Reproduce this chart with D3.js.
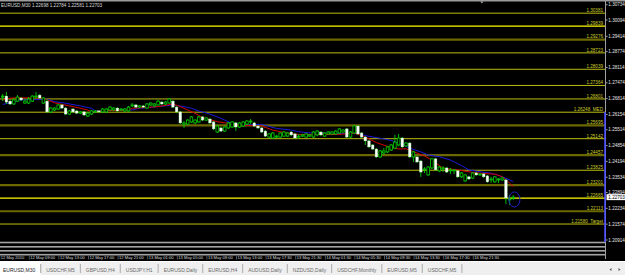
<!DOCTYPE html>
<html>
<head>
<meta charset="utf-8">
<script src="https://cdn.jsdelivr.net/npm/d3@7"></script>
<style>
  html, body { margin: 0; padding: 0; background: #000; overflow: hidden; }
  svg { display: block; font-family: "Liberation Sans", Arial, sans-serif; }
</style>
</head>
<body>
<div id="chart"></div>
<script>
// chart header
const symbolTitle = 'EURUSD,M30';
const lastQuote = ['1.22698', '1.22784', '1.22581', '1.22703'];
const lastPrice = 1.22703;

// M30 candles
const opens = [1.2688,1.2692,1.2671,1.2659,1.2671,1.2684,1.2663,1.2663,1.2671,1.2688,1.2696,1.2663,1.2671,1.2626,1.2634,1.2638,1.2655,1.2642,1.2617,1.2638,
  1.2630,1.2621,1.2626,1.2609,1.2617,1.2626,1.2630,1.2626,1.2626,1.2634,1.2634,1.2642,1.2634,1.2630,1.2630,1.2651,1.2655,1.2646,1.2651,1.2642,
  1.2655,1.2651,1.2655,1.2667,1.2659,1.2663,1.2671,1.2646,1.2626,1.2575,1.2575,1.2584,1.2580,1.2584,1.2605,1.2592,1.2596,1.2584,1.2542,1.2559,
  1.2546,1.2559,1.2563,1.2580,1.2563,1.2567,1.2575,1.2584,1.2580,1.2567,1.2559,1.2546,1.2521,1.2517,1.2521,1.2521,1.2525,1.2525,1.2542,1.2534,
  1.2521,1.2525,1.2521,1.2525,1.2521,1.2530,1.2542,1.2525,1.2534,1.2534,1.2534,1.2538,1.2542,1.2555,1.2521,1.2538,1.2567,1.2538,1.2521,1.2505,
  1.2488,1.2471,1.2438,1.2455,1.2459,1.2467,1.2475,1.2488,1.2517,1.2484,1.2496,1.2438,1.2438,1.2421,1.2384,1.2363,1.2392,1.2430,1.2380,1.2388,
  1.2392,1.2380,1.2380,1.2380,1.2355,1.2338,1.2355,1.2350,1.2371,1.2363,1.2367,1.2359,1.2342,1.2334,1.2342,1.2342,1.2342,1.2259,1.22698];
const highs = [1.2701,1.2709,1.2680,1.2684,1.2696,1.2688,1.2680,1.2688,1.2696,1.2709,1.2701,1.2688,1.2680,1.2646,1.2646,1.2659,1.2659,1.2646,1.2634,1.2642,
  1.2634,1.2630,1.2630,1.2625,1.2634,1.2634,1.2634,1.2642,1.2642,1.2651,1.2646,1.2646,1.2642,1.2642,1.2651,1.2663,1.2659,1.2655,1.2655,1.2663,
  1.2667,1.2663,1.2676,1.2671,1.2671,1.2684,1.2676,1.2651,1.2630,1.2588,1.2596,1.2609,1.2596,1.2609,1.2609,1.2605,1.2601,1.2588,1.2571,1.2563,
  1.2567,1.2584,1.2588,1.2584,1.2584,1.2588,1.2592,1.2596,1.2584,1.2571,1.2563,1.2550,1.2538,1.2542,1.2530,1.2542,1.2546,1.2542,1.2546,1.2538,
  1.2534,1.2534,1.2538,1.2534,1.2546,1.2550,1.2546,1.2542,1.2546,1.2546,1.2550,1.2559,1.2555,1.2559,1.2546,1.2571,1.2571,1.2542,1.2525,1.2509,
  1.2492,1.2475,1.2467,1.2475,1.2484,1.2492,1.2530,1.2534,1.2521,1.2500,1.2500,1.2463,1.2442,1.2425,1.2396,1.2400,1.2434,1.2434,1.2400,1.2400,
  1.2396,1.2392,1.2388,1.2384,1.2375,1.2367,1.2359,1.2375,1.2375,1.2371,1.2371,1.2363,1.2355,1.2359,1.2350,1.2355,1.2346,1.2280,1.22784];
const lows = [1.2671,1.2659,1.2655,1.2655,1.2667,1.2671,1.2659,1.2659,1.2667,1.2680,1.2680,1.2659,1.2621,1.2621,1.2630,1.2634,1.2638,1.2613,1.2613,1.2621,
  1.2617,1.2617,1.2609,1.2605,1.2613,1.2621,1.2621,1.2621,1.2621,1.2630,1.2630,1.2626,1.2630,1.2626,1.2626,1.2646,1.2642,1.2642,1.2642,1.2638,
  1.2651,1.2646,1.2651,1.2655,1.2655,1.2659,1.2642,1.2621,1.2575,1.2559,1.2571,1.2580,1.2575,1.2580,1.2588,1.2588,1.2575,1.2550,1.2538,1.2542,
  1.2542,1.2555,1.2559,1.2546,1.2559,1.2563,1.2571,1.2575,1.2563,1.2555,1.2538,1.2521,1.2517,1.2513,1.2517,1.2517,1.2521,1.2521,1.2525,1.2513,
  1.2513,1.2521,1.2517,1.2521,1.2517,1.2525,1.2525,1.2521,1.2530,1.2530,1.2530,1.2534,1.2538,1.2517,1.2517,1.2534,1.2530,1.2517,1.2488,1.2475,
  1.2467,1.2434,1.2434,1.2446,1.2455,1.2463,1.2471,1.2484,1.2475,1.2480,1.2434,1.2417,1.2413,1.2355,1.2371,1.2359,1.2388,1.2380,1.2375,1.2375,
  1.2371,1.2367,1.2367,1.2350,1.2350,1.2334,1.2342,1.2346,1.2359,1.2359,1.2350,1.2330,1.2330,1.2330,1.2330,1.2338,1.2242,1.2238,1.22581];
const closes = [1.2692,1.2667,1.2659,1.2676,1.2688,1.2676,1.2671,1.2680,1.2692,1.2692,1.2684,1.2684,1.2626,1.2642,1.2642,1.2655,1.2642,1.2617,1.2630,1.2626,
  1.2621,1.2626,1.2613,1.2621,1.2630,1.2630,1.2626,1.2638,1.2638,1.2646,1.2642,1.2630,1.2638,1.2638,1.2646,1.2655,1.2646,1.2651,1.2646,1.2659,
  1.2663,1.2659,1.2671,1.2659,1.2667,1.2680,1.2646,1.2626,1.2580,1.2580,1.2592,1.2605,1.2592,1.2605,1.2592,1.2601,1.2580,1.2555,1.2567,1.2546,
  1.2563,1.2580,1.2584,1.2563,1.2580,1.2584,1.2588,1.2588,1.2567,1.2559,1.2542,1.2525,1.2534,1.2538,1.2525,1.2538,1.2542,1.2538,1.2530,1.2517,
  1.2525,1.2530,1.2534,1.2530,1.2542,1.2546,1.2530,1.2538,1.2542,1.2542,1.2546,1.2555,1.2550,1.2521,1.2542,1.2567,1.2534,1.2521,1.2505,1.2480,
  1.2471,1.2438,1.2463,1.2463,1.2480,1.2488,1.2500,1.2517,1.2480,1.2496,1.2438,1.2459,1.2417,1.2375,1.2388,1.2396,1.2430,1.2384,1.2396,1.2392,
  1.2375,1.2384,1.2384,1.2355,1.2371,1.2363,1.2346,1.2371,1.2363,1.2367,1.2355,1.2334,1.2346,1.2355,1.2346,1.2350,1.2267,1.2263,1.22703];

// moving averages (bar index, value)
const maFastBars = [0,2,4,11,14,19,23,24,26,34,35,42,46,48,50,52,54,58,64,70,73,77,80,91,95,98,101,104,107,109,111,114,116,119,123,126,129,133,135,137,138];
const maFastValues = [1.2676,1.2683,1.2685,1.2683,1.2664,1.2648,1.2634,1.2626,1.2630,1.2634,1.2641,1.2648,1.2659,1.2648,1.2634,1.2620,1.2603,1.2585,1.2571,1.2567,
  1.2550,1.2537,1.2532,1.2532,1.2538,1.2521,1.2498,1.2482,1.2471,1.2472,1.2460,1.2442,1.2425,1.2391,1.2384,1.2376,1.2370,1.2366,1.2356,1.2329,1.2314];
const maSlowBars = [0,5,12,14,17,21,24,25,35,37,42,46,49,51,53,56,59,62,65,70,74,78,80,84,96,98,102,105,108,110,113,115,118,121,124,126,129,132,134,136,138];
const maSlowValues = [1.2657,1.2676,1.2679,1.2669,1.2662,1.2651,1.2641,1.2631,1.2634,1.2641,1.2648,1.2655,1.2648,1.2641,1.2630,1.2617,1.2599,1.2578,1.2571,1.2574,
  1.2557,1.2550,1.2543,1.2537,1.2536,1.2527,1.2516,1.2507,1.2490,1.2475,1.2459,1.2446,1.2439,1.2425,1.2402,1.2384,1.2376,1.2370,1.2361,1.2349,1.2335];

// horizontal levels
const levelPrices = [1.30381,1.29839,1.29276,1.28723,1.28039,1.27364,1.26801,1.26248,1.25695,1.25142,1.24457,1.23825,1.23201,1.22665,1.22113,1.21580];
const levelLabels = ['1.30381','1.29839','1.29276','1.28723','1.28039','1.27364','1.26801','1.26248  MED','1.25695','1.25142','1.24457','1.23825','1.23201','1.22665','1.22113','1.21580  Target'];
const levelKinds = ['minor','major','zone','minor','minor','minor','minor','minor','zone','minor','zone','minor','zone','major','zone','minor'];

// axes
const priceTicks = [1.30734,1.30094,1.29414,1.28774,1.28114,1.27474,1.26814,1.26154,1.25514,1.24854,1.24194,1.23534,1.22894,1.22234,1.21574,1.20914];
const timeLabels = ['12 May 2010','12 May 09:00','12 May 13:00','12 May 17:00','12 May 21:00','13 May 01:00','13 May 05:00','13 May 09:00','13 May 13:00',
  '13 May 17:30','13 May 21:30','14 May 01:30','14 May 05:30','14 May 09:30','14 May 13:30','16 May 17:30','16 May 21:30'];
const barsPerLabel = 8;

// drawn ellipse (bars, prices)
const ellipseBars = [136.8, 139.8];
const ellipsePrices = [1.2229, 1.2292];
const shiftBar = 129.5;

const tabNames = ['EURUSD,M30','USDCHF,M5','GBPUSD,H4','USDJPY,H1','EURUSD,Daily','EURUSD,H4','AUDUSD,Daily','NZDUSD,Daily','USDCHF,Monthly','EURUSD,M5','USDCHF,M5'];

const width = 625;
const height = 275;
const plotRight = 605;
const green = '#00d000';

const svg = d3.select('#chart')
  .append('svg')
  .attr('width', width)
  .attr('height', height);

svg.append('rect').attr('width', width).attr('height', height).attr('fill', '#000');

// scales
const x = d3.scaleLinear().domain([0, opens.length - 1]).range([2.7, 513.3]);
const y = d3.scaleLinear().domain([1.20914, 1.30734]).range([240, 4.7]);

// top border
svg.append('rect').attr('x', 0).attr('y', 0).attr('width', width).attr('height', 1.5).attr('fill', '#9c9c9c');

// header text
svg.append('text')
  .attr('x', 1).attr('y', 6.8)
  .attr('font-size', 4.6).attr('fill', '#d8d8d8')
  .text(symbolTitle + '  ' + lastQuote.join(' '));

// chart shift marker
svg.append('path')
  .attr('d', `M${x(shiftBar) - 1.6},1.5 L${x(shiftBar) + 1.6},1.5 L${x(shiftBar)},3.6 Z`)
  .attr('fill', '#a8a8a8');

// level lines
const levelStyle = {
  major: { stroke: '#ffff00', width: 1.3 },
  minor: { stroke: '#bebe10', width: 1 },
  zone: { stroke: '#6c6800', width: 2.2 }
};

const levels = svg.append('g');
levelPrices.forEach((p, i) => {
  const st = levelStyle[levelKinds[i]];
  levels.append('line')
    .attr('x1', 0).attr('x2', plotRight)
    .attr('y1', y(p)).attr('y2', y(p))
    .attr('stroke', st.stroke)
    .attr('stroke-width', st.width);
  levels.append('text')
    .attr('x', plotRight - 2)
    .attr('y', y(p) - (levelKinds[i] === 'zone' ? 1.6 : 1.1))
    .attr('text-anchor', 'end')
    .attr('font-size', 4.6)
    .attr('fill', '#cccc2a')
    .style('white-space', 'pre')
    .text(levelLabels[i]);
});

// bottom grey bands
const bands = [242.5, 246.8, 250.8, 254.7];
svg.append('g').selectAll('rect')
  .data(bands)
  .enter()
  .append('rect')
  .attr('x', 0).attr('y', d => d - 0.8)
  .attr('width', plotRight).attr('height', 1.6)
  .attr('fill', '#a4a4a4');

// moving averages
const maLine = d3.line().x(d => x(d[0])).y(d => y(d[1]));

svg.append('path')
  .datum(maSlowBars.map((b, i) => [b, maSlowValues[i]]))
  .attr('d', maLine)
  .attr('fill', 'none')
  .attr('stroke', '#1a1ad8')
  .attr('stroke-width', 1);

svg.append('path')
  .datum(maFastBars.map((b, i) => [b, maFastValues[i]]))
  .attr('d', maLine)
  .attr('fill', 'none')
  .attr('stroke', '#d40000')
  .attr('stroke-width', 1);

// candles
const candles = svg.append('g');
opens.forEach((o, i) => {
  const c = closes[i];
  const bull = c >= o;
  const cx = x(i);
  candles.append('line')
    .attr('x1', cx).attr('x2', cx)
    .attr('y1', y(highs[i])).attr('y2', y(lows[i]))
    .attr('stroke', green)
    .attr('stroke-width', 0.9);
  const top = y(Math.max(o, c));
  const h = Math.max(Math.abs(y(o) - y(c)), 0.9);
  candles.append('rect')
    .attr('x', cx - 1.3).attr('y', top)
    .attr('width', 2.6).attr('height', h)
    .attr('fill', bull ? '#000' : '#ffffff')
    .attr('stroke', bull ? green : '#a8f0a8')
    .attr('stroke-width', bull ? 0.8 : 0.4);
});

// drawn ellipse
svg.append('ellipse')
  .attr('cx', (x(ellipseBars[0]) + x(ellipseBars[1])) / 2)
  .attr('cy', (y(ellipsePrices[0]) + y(ellipsePrices[1])) / 2)
  .attr('rx', (x(ellipseBars[1]) - x(ellipseBars[0])) / 2)
  .attr('ry', (y(ellipsePrices[0]) - y(ellipsePrices[1])) / 2)
  .attr('fill', 'none')
  .attr('stroke', '#2222c8')
  .attr('stroke-width', 1);

// price axis
svg.append('line')
  .attr('x1', plotRight + 0.5).attr('x2', plotRight + 0.5)
  .attr('y1', 0).attr('y2', 259)
  .attr('stroke', '#a0a0a0').attr('stroke-width', 1);
svg.append('line')
  .attr('x1', plotRight).attr('x2', plotRight)
  .attr('y1', 112).attr('y2', 242)
  .attr('stroke', '#4a4aff').attr('stroke-width', 1.6);

const pAxis = svg.append('g');
priceTicks.forEach(p => {
  pAxis.append('line')
    .attr('x1', plotRight + 1).attr('x2', plotRight + 2.6)
    .attr('y1', y(p)).attr('y2', y(p))
    .attr('stroke', '#c8c8c8').attr('stroke-width', 0.8);
  pAxis.append('text')
    .attr('x', plotRight + 3.3).attr('y', y(p))
    .attr('dy', '0.35em')
    .attr('font-size', 4.6)
    .attr('fill', '#e4e4e4')
    .text(p.toFixed(5));
});

// current price box
pAxis.append('rect')
  .attr('x', plotRight + 1.5).attr('y', y(lastPrice) - 3)
  .attr('width', width - plotRight - 1.5).attr('height', 6)
  .attr('fill', '#ffffff');
pAxis.append('text')
  .attr('x', plotRight + 3.3).attr('y', y(lastPrice))
  .attr('dy', '0.35em')
  .attr('font-size', 4.6)
  .attr('fill', '#000')
  .text(lastPrice.toFixed(5));

// time axis
const tAxis = svg.append('g');
timeLabels.forEach((t, k) => {
  const bx = x(k * barsPerLabel);
  tAxis.append('line')
    .attr('x1', bx - 3).attr('x2', bx - 3)
    .attr('y1', 255.8).attr('y2', 259.5)
    .attr('stroke', '#909090').attr('stroke-width', 0.6);
  tAxis.append('text')
    .attr('x', bx - 2).attr('y', 259.3)
    .attr('font-size', 4.1)
    .attr('fill', '#d8d8d8')
    .text(t);
});

// tab bar
svg.append('rect').attr('x', 0).attr('y', 261).attr('width', width).attr('height', 14).attr('fill', '#efefef');
svg.append('line').attr('x1', 0).attr('x2', width).attr('y1', 261.5).attr('y2', 261.5).attr('stroke', '#ffffff');
const tabs = svg.append('g');
const activeTab = tabs.append('rect').attr('x', 0).attr('y', 262).attr('height', 13).attr('fill', '#ffffff');
let tx = 3;
tabNames.forEach((name, i) => {
  const t = tabs.append('text')
    .attr('x', tx).attr('y', 271.5)
    .attr('font-size', 5)
    .attr('fill', i === 0 ? '#222' : '#6a6a6a')
    .text(name);
  const w = t.node().getComputedTextLength();
  const sep = tx + w + 5.5;
  if (i === 0) activeTab.attr('width', sep);
  tabs.append('line')
    .attr('x1', sep).attr('x2', sep)
    .attr('y1', 264).attr('y2', 273)
    .attr('stroke', i === 0 ? '#8a8a8a' : '#9a9a9a')
    .attr('stroke-width', 0.8);
  tx = sep + 5.5;
});

// scroll arrows
tabs.append('path').attr('d', 'M609.5,269.5 L611.5,268 L611.5,271 Z').attr('fill', '#555');
tabs.append('path').attr('d', 'M620.5,269.5 L618.5,268 L618.5,271 Z').attr('fill', '#555');
</script>
</body>
</html>
